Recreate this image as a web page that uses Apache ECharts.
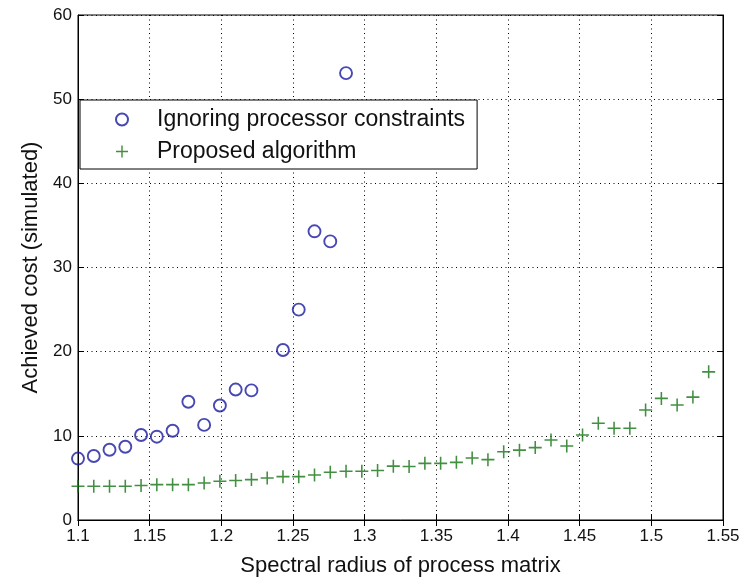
<!DOCTYPE html>
<html>
<head>
<meta charset="utf-8">
<script src="https://cdn.jsdelivr.net/npm/echarts@6/dist/echarts.min.js"></script>
<style>
  html, body { margin: 0; padding: 0; background: #fff; }
  #chart { width: 756px; height: 582px; }
</style>
</head>
<body>
<div id="chart"></div>
<script>
// spectral radius of each run
var ignoreX = [1.1, 1.111, 1.122, 1.133, 1.144, 1.155, 1.166, 1.177, 1.188, 1.199,
  1.21, 1.221, 1.243, 1.254, 1.265, 1.276, 1.287];
var ignoreY = [7.3, 7.6, 8.35, 8.7, 10.1, 9.9, 10.6, 14.05, 11.3, 13.6,
  15.5, 15.4, 20.2, 25.0, 34.3, 33.1, 53.1];

var proposedX = [1.1, 1.111, 1.122, 1.133, 1.144, 1.155, 1.166, 1.177, 1.188, 1.199,
  1.21, 1.221, 1.232, 1.243, 1.254, 1.265, 1.276, 1.287, 1.298, 1.309,
  1.32, 1.331, 1.342, 1.353, 1.364, 1.375, 1.386, 1.397, 1.408, 1.419,
  1.43, 1.441, 1.452, 1.463, 1.474, 1.485, 1.496, 1.507, 1.518, 1.529, 1.54];
var proposedY = [4.0, 4.0, 4.0, 4.0, 4.1, 4.2, 4.2, 4.2, 4.4, 4.6,
  4.7, 4.8, 5.0, 5.15, 5.15, 5.35, 5.67, 5.8, 5.8, 5.87,
  6.4, 6.35, 6.73, 6.73, 6.85, 7.36, 7.17, 8.1, 8.3, 8.6,
  9.5, 8.8, 10.1, 11.5, 10.9, 10.9, 13.07, 14.45, 13.66, 14.6, 17.6];

var xTicks = { min: 1.1, max: 1.55, step: 0.05 };
var yTicks = { min: 0, max: 60, step: 10 };

function pairs(xs, ys) {
  return xs.map(function (x, i) { return [x, ys[i]]; });
}

var plusPath = 'path://M-1,-0.12L1,-0.12L1,0.12L-1,0.12Z M-0.12,-1L0.12,-1L0.12,1L-0.12,1Z';
var font = '"Liberation Sans", Arial, sans-serif';
var gridDots = { color: '#000', width: 1, type: [1, 3.5] };

var chart = echarts.init(document.getElementById('chart'));
chart.setOption({
  backgroundColor: '#fff',
  animation: false,
  grid: { left: 78, right: 33, top: 15, bottom: 58, show: true, borderColor: '#000', borderWidth: 1 },
  legend: {
    left: 80,
    top: 100,
    orient: 'vertical',
    backgroundColor: '#fff',
    borderColor: '#000',
    borderWidth: 1,
    padding: [8, 12, 6, 35],
    itemWidth: 60,
    itemHeight: 12,
    itemGap: 9,
    textStyle: { fontFamily: font, fontSize: 23, color: '#111' },
    data: ['Ignoring processor constraints', 'Proposed algorithm']
  },
  xAxis: [
    {
      type: 'value', min: xTicks.min, max: xTicks.max, interval: xTicks.step,
      name: 'Spectral radius of process matrix', nameLocation: 'middle', nameGap: 35,
      nameTextStyle: { fontFamily: font, fontSize: 22, color: '#111' },
      axisLine: { show: true, onZero: false, lineStyle: { color: '#000' } },
      axisTick: { show: true, inside: true, length: 6, lineStyle: { color: '#000' } },
      axisLabel: { fontFamily: font, fontSize: 17, color: '#111', margin: 8 },
      splitLine: { show: true, lineStyle: gridDots }
    },
    {
      type: 'value', position: 'top', min: xTicks.min, max: xTicks.max, interval: xTicks.step,
      axisLine: { show: true, lineStyle: { color: '#000' } },
      axisTick: { show: true, inside: true, length: 6, lineStyle: { color: '#000' } },
      axisLabel: { show: false },
      splitLine: { show: false }
    }
  ],
  yAxis: [
    {
      type: 'value', min: yTicks.min, max: yTicks.max, interval: yTicks.step,
      name: 'Achieved cost (simulated)', nameLocation: 'middle', nameGap: 36,
      nameTextStyle: { fontFamily: font, fontSize: 22, color: '#111' },
      axisLine: { show: true, lineStyle: { color: '#000' } },
      axisTick: { show: true, inside: true, length: 6, lineStyle: { color: '#000' } },
      axisLabel: { fontFamily: font, fontSize: 17, color: '#111', margin: 6 },
      splitLine: { show: true, lineStyle: gridDots }
    },
    {
      type: 'value', position: 'right', min: yTicks.min, max: yTicks.max, interval: yTicks.step,
      axisLine: { show: true, lineStyle: { color: '#000' } },
      axisTick: { show: true, inside: true, length: 6, lineStyle: { color: '#000' } },
      axisLabel: { show: false },
      splitLine: { show: false }
    }
  ],
  series: [
    {
      name: 'Ignoring processor constraints',
      type: 'scatter',
      symbol: 'circle',
      symbolSize: 12,
      itemStyle: { color: 'rgba(0,0,0,0)', borderColor: '#1a1aa0', borderWidth: 1.9 },
      data: pairs(ignoreX, ignoreY)
    },
    {
      name: 'Proposed algorithm',
      type: 'scatter',
      symbol: plusPath,
      symbolSize: 13,
      itemStyle: { color: '#137313' },
      data: pairs(proposedX, proposedY)
    }
  ]
});
</script>
</body>
</html>
